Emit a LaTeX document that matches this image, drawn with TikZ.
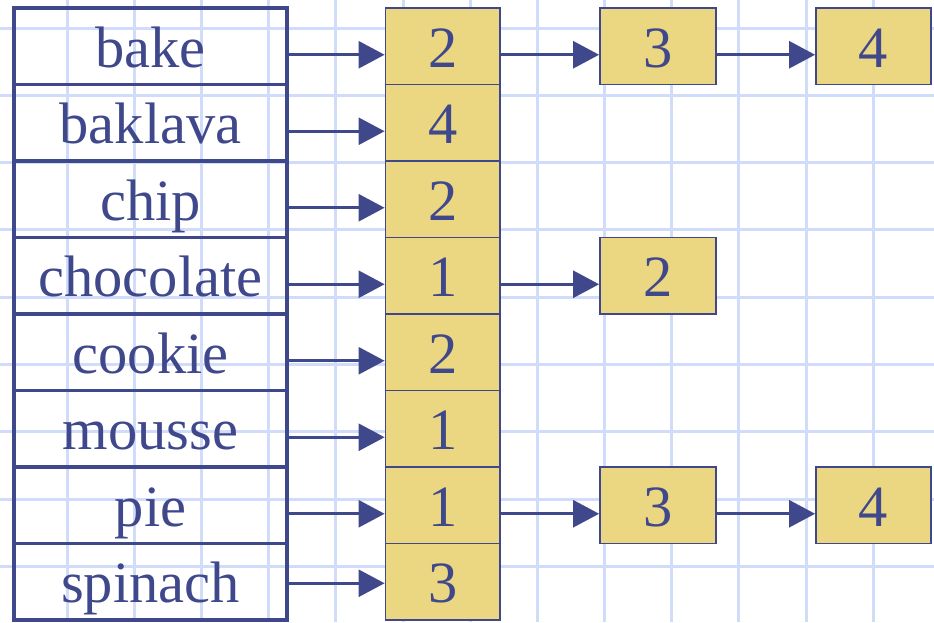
\documentclass[tikz,border=0pt]{standalone}
\usepackage{fontspec}
\setmainfont{Liberation Serif}
\usetikzlibrary{arrows.meta}
\definecolor{ink}{RGB}{64,72,140}
\definecolor{gold}{RGB}{235,215,130}
\definecolor{gridc}{RGB}{208,220,250}
\tikzset{
  txt/.style={font=\fontsize{58.5}{60}\selectfont, text=ink, text height=42pt, text depth=0pt, inner sep=0pt},
  tcell/.style={txt, draw=ink, line width=3.5pt, minimum width=273pt, minimum height=76.5pt},
  ybox/.style={txt, draw=ink, line width=1.8pt, fill=gold, minimum height=76.5pt},
  arr/.style={draw=ink, line width=2.7pt, -{Triangle[length=26pt,width=27pt]}},
  gline/.style={draw=gridc, line width=3pt}
}
\begin{document}
\begin{tikzpicture}[x=1pt,y=-1pt]
\useasboundingbox (0,0) rectangle (934,622);
% grid
\foreach \k in {1,...,13} \draw[gline] ({67.17*\k},0) -- ({67.17*\k},622);
\foreach \k in {0,...,8} \draw[gline] (0,{28+67.3*\k}) -- (934,{28+67.3*\k});
% table and middle column
\foreach \w/\n/\d [count=\i from 0] in {bake/2/8.5,baklava/4/8.5,chip/2/8.5,chocolate/1/8.5,cookie/2/8.5,mousse/1/8.5,pie/1/8.5,spinach/3/1.5} {
  \node[tcell] (t\i) at (150.5,{46.25+76.5*\i}) {\w};
  \node[ybox, minimum width=114.5pt] (m\i) at (442.75,{46.25+76.5*\i}) {\n};
  \draw[arr] ([yshift=-\d pt]t\i.east) -- ([yshift=-\d pt]m\i.west);
}
% third column
\node[ybox, minimum width=116pt] (a0) at (658,{46.25}) {3};
\node[ybox, minimum width=116pt] (a3) at (658,{46.25+76.5*3}) {2};
\node[ybox, minimum width=116pt] (a6) at (658,{46.25+76.5*6}) {3};
% fourth column
\node[ybox, minimum width=115pt] (b0) at (873.5,{46.25}) {4};
\node[ybox, minimum width=115pt] (b6) at (873.5,{46.25+76.5*6}) {4};
\draw[arr] ([yshift=-8.5pt]m0.east) -- ([yshift=-8.5pt]a0.west);
\draw[arr] ([yshift=-8.5pt]m3.east) -- ([yshift=-8.5pt]a3.west);
\draw[arr] ([yshift=-8.5pt]m6.east) -- ([yshift=-8.5pt]a6.west);
\draw[arr] ([yshift=-8.5pt]a0.east) -- ([yshift=-8.5pt]b0.west);
\draw[arr] ([yshift=-8.5pt]a6.east) -- ([yshift=-8.5pt]b6.west);
\end{tikzpicture}
\end{document}
